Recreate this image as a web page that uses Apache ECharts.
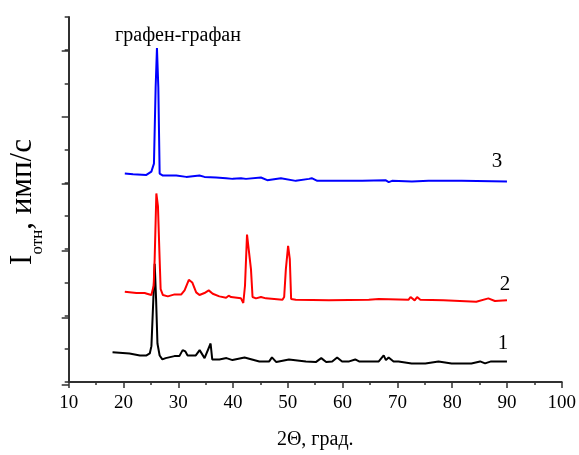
<!DOCTYPE html>
<html><head><meta charset="utf-8">
<script src="https://cdn.jsdelivr.net/npm/echarts@6/dist/echarts.min.js"></script>
<style>html,body{margin:0;padding:0;background:#fff}#c{width:579px;height:455px}</style>
</head><body><div id="c"></div>
<script>
const FONT = "'Liberation Serif','Times New Roman',serif";
const xTickValues = [10, 20, 30, 40, 50, 60, 70, 80, 90, 100];
const xAxisTitle = '2Θ, град.';
const peakLabel = 'графен-графан';
const curveLabels = ['1', '2', '3'];

const sample1 = [[18.0,0.45],[21.1,0.43],[23.0,0.40],[24.2,0.40],[24.8,0.43],[25.1,0.54],[25.45,1.25],[25.7,1.78],[25.95,1.25],[26.2,0.58],[26.6,0.40],[27.1,0.34],[27.7,0.36],[29.3,0.39],[30.2,0.39],[30.8,0.48],[31.3,0.46],[31.7,0.40],[33.2,0.40],[33.9,0.48],[34.8,0.36],[35.9,0.58],[36.2,0.34],[37.5,0.34],[38.8,0.36],[39.9,0.33],[42.1,0.37],[44.8,0.31],[46.6,0.31],[47.1,0.37],[47.9,0.30],[50.2,0.34],[53.3,0.31],[55.1,0.30],[56.1,0.36],[57.0,0.30],[58.1,0.31],[59.0,0.37],[59.9,0.31],[61.2,0.31],[62.3,0.34],[63.0,0.31],[64.8,0.31],[66.6,0.31],[67.5,0.40],[67.9,0.33],[68.4,0.37],[69.3,0.31],[70.2,0.31],[72.6,0.28],[75.1,0.28],[77.5,0.31],[79.9,0.28],[83.5,0.28],[85.1,0.31],[86.0,0.28],[87.1,0.31],[90.0,0.31]];

const sample2 = [[20.24,1.36],[22.36,1.34],[23.87,1.34],[24.29,1.33],[25.09,1.31],[25.51,1.45],[25.69,1.85],[26.0,2.84],[26.29,2.65],[26.6,1.85],[26.78,1.40],[27.2,1.31],[28.1,1.29],[29.33,1.32],[30.55,1.32],[31.15,1.38],[31.93,1.54],[32.55,1.50],[33.27,1.35],[33.87,1.31],[34.78,1.34],[35.56,1.38],[36.29,1.33],[37.5,1.29],[38.73,1.27],[39.2,1.30],[39.64,1.28],[41.45,1.26],[41.87,1.19],[42.18,1.45],[42.55,2.22],[42.84,2.21],[43.27,1.70],[43.56,1.28],[44.18,1.26],[45.09,1.28],[46.0,1.26],[49.02,1.24],[49.33,1.28],[49.64,1.70],[50.05,2.05],[50.36,1.85],[50.6,1.25],[51.45,1.24],[57.5,1.23],[64.78,1.24],[66.6,1.25],[72.05,1.24],[72.4,1.28],[73.15,1.23],[73.6,1.28],[74.18,1.24],[78.4,1.23],[84.4,1.21],[86.6,1.26],[87.8,1.22],[90.0,1.23]];

const sample3 = [[20.24,3.14],[21.75,3.13],[24.18,3.12],[25.09,3.17],[25.56,3.29],[25.87,4.44],[26.11,5.03],[26.36,4.44],[26.6,3.14],[27.2,3.11],[29.64,3.11],[31.45,3.09],[33.87,3.11],[34.18,3.08],[34.78,3.09],[36.9,3.08],[38.73,3.07],[39.93,3.06],[41.45,3.07],[42.36,3.06],[45.09,3.08],[46.24,3.04],[48.73,3.07],[51.45,3.03],[53.87,3.06],[54.36,3.07],[55.38,3.03],[57.51,3.03],[63.56,3.03],[67.82,3.04],[68.11,3.07],[68.42,3.01],[69.02,3.03],[72.65,3.02],[75.69,3.03],[81.75,3.03],[90.0,3.02]];

const AX = '#303030';
const chart = echarts.init(document.getElementById('c'), null, {renderer: 'canvas'});
const gridPos = {left: 68.7, right: 15.3, bottom: 70.7};
chart.setOption({
  animation: false,
  backgroundColor: '#fff',
  grid: [
    Object.assign({top: 16.9}, gridPos),
    Object.assign({top: 50.3}, gridPos)
  ],
  xAxis: [{
    gridIndex: 0, type: 'value', min: xTickValues[0], max: xTickValues[xTickValues.length-1], interval: 10,
    name: xAxisTitle, nameLocation: 'middle', nameGap: 48,
    nameTextStyle: {fontFamily: FONT, fontSize: 20, color: '#000'},
    axisLine: {lineStyle: {color: AX, width: 2}},
    axisTick: {length: 6, lineStyle: {color: AX, width: 1.5}},
    minorTick: {show: true, splitNumber: 2, length: 3, lineStyle: {color: AX, width: 1.5}},
    axisLabel: {fontFamily: FONT, fontSize: 19, color: '#000', margin: 12},
    splitLine: {show: false}
  }, {
    gridIndex: 1, type: 'value', min: 10, max: 100, show: false
  }],
  yAxis: [{
    gridIndex: 0, type: 'value', min: 0, max: 5.5, interval: 0.5,
    axisLine: {show: true, lineStyle: {color: AX, width: 2}},
    axisTick: {show: true, length: 4, lineStyle: {color: AX, width: 1.5}},
    axisLabel: {show: false}, splitLine: {show: false}
  }, {
    gridIndex: 1, type: 'value', min: 0, max: 5, interval: 1,
    axisLine: {show: false},
    axisTick: {show: true, length: 7, lineStyle: {color: AX, width: 1.5}},
    axisLabel: {show: false}, splitLine: {show: false}
  }],
  series: [
    {type: 'line', data: sample1, showSymbol: false, lineStyle: {color: '#000', width: 2}, z: 3},
    {type: 'line', data: sample2, showSymbol: false, lineStyle: {color: '#ff0000', width: 2}, z: 4},
    {type: 'line', data: sample3, showSymbol: false, lineStyle: {color: '#0000ff', width: 2}, z: 4}
  ],
  graphic: [
    {type: 'text', x: 178, y: 35.5, style: {text: peakLabel, fontFamily: FONT, fontSize: 20, fill: '#000', align: 'center', verticalAlign: 'middle'}},
    {type: 'text', x: 503, y: 343, style: {text: curveLabels[0], fontFamily: FONT, fontSize: 21, fill: '#000', align: 'center', verticalAlign: 'middle'}},
    {type: 'text', x: 505, y: 284, style: {text: curveLabels[1], fontFamily: FONT, fontSize: 21, fill: '#000', align: 'center', verticalAlign: 'middle'}},
    {type: 'text', x: 497, y: 161, style: {text: curveLabels[2], fontFamily: FONT, fontSize: 21, fill: '#000', align: 'center', verticalAlign: 'middle'}},
    {type: 'text', x: 23, y: 202, rotation: Math.PI / 2,
     style: {text: '{big|I}{sub|отн}{big|, имп/с}', align: 'center', verticalAlign: 'middle', fill: '#000',
       rich: {
         big: {fontFamily: FONT, fontSize: 31, lineHeight: 46, fill: '#000'},
         sub: {fontFamily: FONT, fontSize: 17, lineHeight: 17, verticalAlign: 'bottom', fill: '#000'}
       }}}
  ]
});
</script>
</body></html>
